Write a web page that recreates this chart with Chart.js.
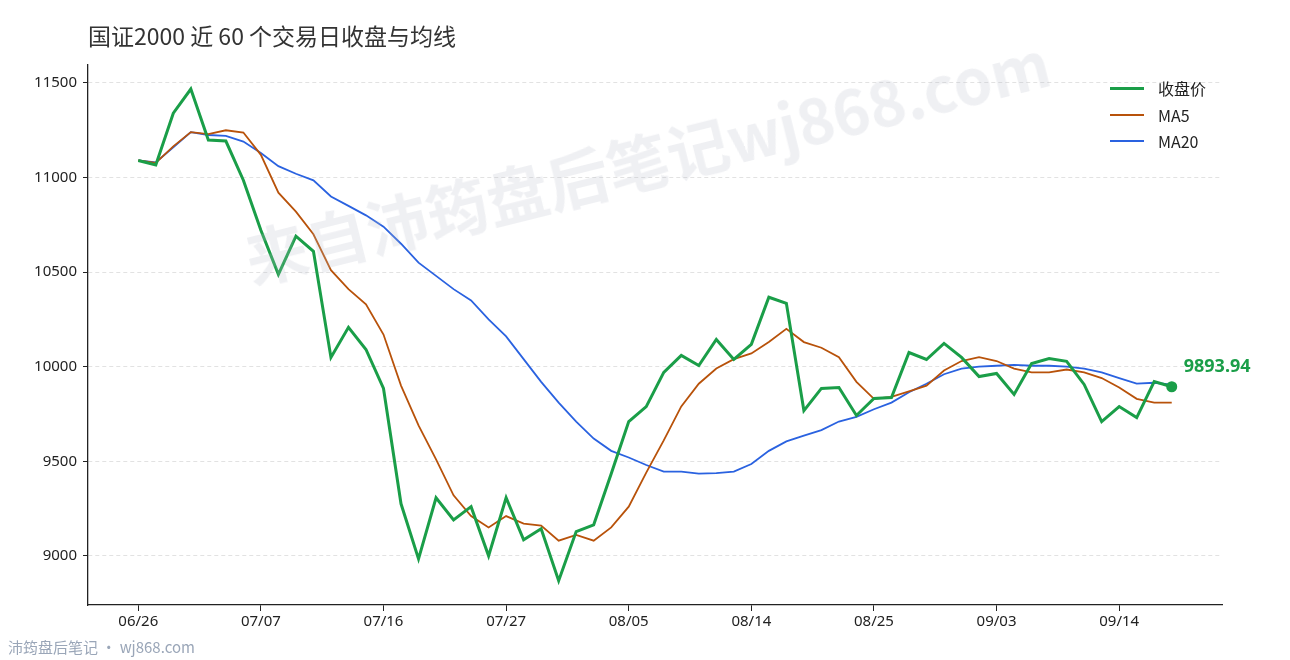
<!DOCTYPE html>
<html><head><meta charset="utf-8">
<script src="https://cdn.jsdelivr.net/npm/chart.js@4"></script>
<style>
body{margin:0;width:1290px;height:660px;background:#fff;font-family:"Noto Sans CJK SC","Noto Sans",sans-serif;position:relative;overflow:hidden}
#title{position:absolute;left:88px;top:18px;font-size:23px;color:#333}
#wrap{position:absolute;left:0;top:0;width:1290px;height:660px}
#wm{position:absolute;left:235px;top:215px;font-size:62px;font-weight:bold;color:rgba(180,185,200,0.22);transform:rotate(-14deg);transform-origin:left top;white-space:nowrap;pointer-events:none}
#foot{position:absolute;left:8px;top:636px;font-size:15px;color:#9aa6b8}
#legend{position:absolute;left:1110px;top:75px;font-size:16px;color:#222;line-height:26.5px}
#legend div{display:flex;align-items:center}
#legend span{display:inline-block;width:34px;margin-right:14px}
</style></head><body>
<div id="wrap"><canvas id="c" width="1290" height="660"></canvas></div>
<div id="title">国证2000 近 60 个交易日收盘与均线</div>
<div id="wm">来自沛筠盘后笔记wj868.com</div>
<div id="foot">沛筠盘后笔记 · wj868.com</div>
<div id="legend">
<div><span style="border-top:3.5px solid #1a9e48"></span>收盘价</div>
<div><span style="border-top:2px solid #b8520a"></span>MA5</div>
<div><span style="border-top:2px solid #2a62e0"></span>MA20</div>
</div>
<script>
const tickLabels = {0:'06/26',7:'07/07',14:'07/16',21:'07/27',28:'08/05',35:'08/14',42:'08/25',49:'09/03',56:'09/14'};
const close = [11090,11066,11340,11468,11198,11193,10986,10721,10488,10690,10610,10049,10208,10091,9885,9275,8984,9307,9190,9260,9000,9307,9085,9143,8868,9128,9164,9434,9710,9789,9970,10060,10006,10144,10038,10118,10367,10335,9768,9885,9890,9742,9832,9837,10075,10038,10123,10049,9948,9964,9853,10017,10043,10028,9906,9710,9789,9731,9921,9893.94];
const ma5 = [11090,11078,11165,11240,11230,11250,11238,11120,10920,10820,10700,10510,10410,10330,10170,9900,9690,9510,9320,9210,9150,9210,9170,9160,9080,9110,9080,9150,9260,9440,9610,9790,9910,9990,10040,10070,10130,10200,10130,10100,10050,9920,9830,9840,9870,9900,9980,10030,10050,10030,9990,9970,9970,9985,9970,9940,9890,9830,9810,9810];
const ma20 = [11090,11080,11160,11240,11225,11220,11190,11130,11060,11020,10985,10900,10850,10800,10740,10650,10550,10480,10410,10350,10250,10160,10040,9920,9810,9710,9620,9555,9520,9480,9445,9445,9435,9437,9445,9485,9555,9605,9635,9665,9710,9735,9775,9810,9865,9910,9960,9990,10000,10005,10010,10005,10005,10000,9990,9970,9940,9910,9915,9905];
const yTicks = [9000,9500,10000,10500,11000,11500];
const pts = a => a.map((v,i)=>({x:i,y:v}));
const endLabel = {id:'endLabel',afterDatasetsDraw(ch){
  const m=ch.getDatasetMeta(0); const p=m.data[m.data.length-1]; const c=ch.ctx;
  c.save(); c.fillStyle='#1a9e48'; c.beginPath(); c.arc(p.x,p.y,5.5,0,Math.PI*2); c.fill();
  c.font='bold 18px "Noto Sans","DejaVu Sans",sans-serif'; c.textBaseline='middle';
  c.fillText(close[close.length-1].toFixed(2),p.x+12,p.y-20); c.restore();}};
new Chart(document.getElementById('c'),{
 type:'line',
 data:{datasets:[
  {data:pts(close),borderColor:'#1a9e48',borderWidth:3,pointRadius:0,tension:0,order:0},
  {data:pts(ma5),borderColor:'#b8520a',borderWidth:1.8,pointRadius:0,tension:0,order:1},
  {data:pts(ma20),borderColor:'#2a62e0',borderWidth:1.8,pointRadius:0,tension:0,order:2}]},
 options:{responsive:false,animation:false,
  layout:{padding:{left:0,right:68,top:65,bottom:27}},
  plugins:{legend:{display:false},tooltip:{enabled:false}},
  scales:{
   x:{type:'linear',min:-2.87,max:61.87,
     afterBuildTicks:s=>{s.ticks=Object.keys(tickLabels).map(k=>({value:+k}));},
     ticks:{callback:v=>tickLabels[v]||'',font:{size:15,family:'"Noto Sans","DejaVu Sans"'},color:'#222',maxRotation:0,autoSkip:false,padding:2},
     grid:{display:true,drawOnChartArea:false,drawTicks:true,tickLength:6,tickColor:'#222'},border:{color:'#222',width:1.3}},
   y:{min:8740,max:11595,
     afterBuildTicks:s=>{s.ticks=yTicks.map(v=>({value:v}));},
     ticks:{callback:v=>String(v),font:{size:15,family:'"Noto Sans","DejaVu Sans"'},color:'#222',padding:6},
     afterFit:s=>{s.width=88;},
     grid:{color:'#e2e2e2',tickColor:'#222',tickLength:5},border:{color:'#222',width:1.3,dash:[4,3]}}
  }},
 plugins:[endLabel]
});
</script></body></html>
